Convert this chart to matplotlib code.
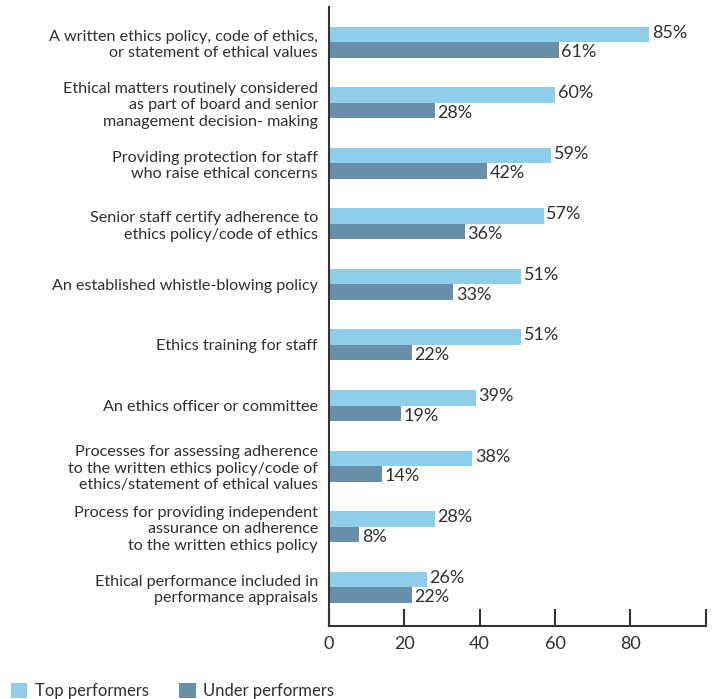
import matplotlib
matplotlib.use("Agg")
import matplotlib.pyplot as plt
import numpy as np

plt.rcParams['font.family'] = ['Lato', 'DejaVu Sans']

categories = [
    "A written ethics policy, code of ethics,\nor statement of ethical values",
    "Ethical matters routinely considered\nas part of board and senior\nmanagement decision- making",
    "Providing protection for staff\nwho raise ethical concerns",
    "Senior staff certify adherence to\nethics policy/code of ethics",
    "An established whistle-blowing policy",
    "Ethics training for staff",
    "An ethics officer or committee",
    "Processes for assessing adherence\nto the written ethics policy/code of\nethics/statement of ethical values",
    "Process for providing independent\nassurance on adherence\nto the written ethics policy",
    "Ethical performance included in\nperformance appraisals",
]
top_performers = [85, 60, 59, 57, 51, 51, 39, 38, 28, 26]
under_performers = [61, 28, 42, 36, 33, 22, 19, 14, 8, 22]
x_ticks = [0, 20, 40, 60, 80, 100]
x_tick_labels = ["0", "20", "40", "60", "80", ""]

TOP_COLOR = "#8ECEE9"
UNDER_COLOR = "#6990AA"
TEXT_COLOR = "#2f2f2f"

fig = plt.figure(figsize=(7.17, 6.99), dpi=100)
ax = fig.add_axes([0.459, 0.1044, 0.984 - 0.459, 0.990 - 0.1044])

y = np.arange(len(categories))
h = 0.256
ax.barh(y - h / 2, top_performers, height=h, color=TOP_COLOR, label="Top performers")
ax.barh(y + h / 2, under_performers, height=h, color=UNDER_COLOR, label="Under performers")

for yi, v in zip(y, top_performers):
    ax.text(v + 0.7, yi - h / 2 - 0.03, f"{v}%", va="center", ha="left",
            fontsize=13, color=TEXT_COLOR)
for yi, v in zip(y, under_performers):
    ax.text(v + 0.7, yi + h / 2 + 0.04, f"{v}%", va="center", ha="left",
            fontsize=13, color=TEXT_COLOR)

ax.set_ylim(len(categories) - 1 + 0.64, -0.58)
ax.set_xlim(0, 100)
ax.set_yticks(y)
ax.set_yticklabels(categories, fontsize=11.6, color=TEXT_COLOR, linespacing=1.22)
ax.tick_params(axis="y", length=0, pad=8)
ax.set_xticks(x_ticks)
ax.set_xticklabels(x_tick_labels, fontsize=13, color=TEXT_COLOR)
ax.tick_params(axis="x", direction="in", length=12, width=1.5, color="#333333", pad=7)

for s in ["top", "right"]:
    ax.spines[s].set_visible(False)
for s in ["left", "bottom"]:
    ax.spines[s].set_color("#333333")
    ax.spines[s].set_linewidth(1.5)

handles, labels = ax.get_legend_handles_labels()
fig.legend(handles, labels, loc="lower left", bbox_to_anchor=(-0.006, -0.022),
           ncol=2, frameon=False, fontsize=12, handlelength=1.0, handleheight=1.0,
           handletextpad=0.45, columnspacing=1.8, labelcolor=TEXT_COLOR)

fig.savefig("out.png", dpi=100)
